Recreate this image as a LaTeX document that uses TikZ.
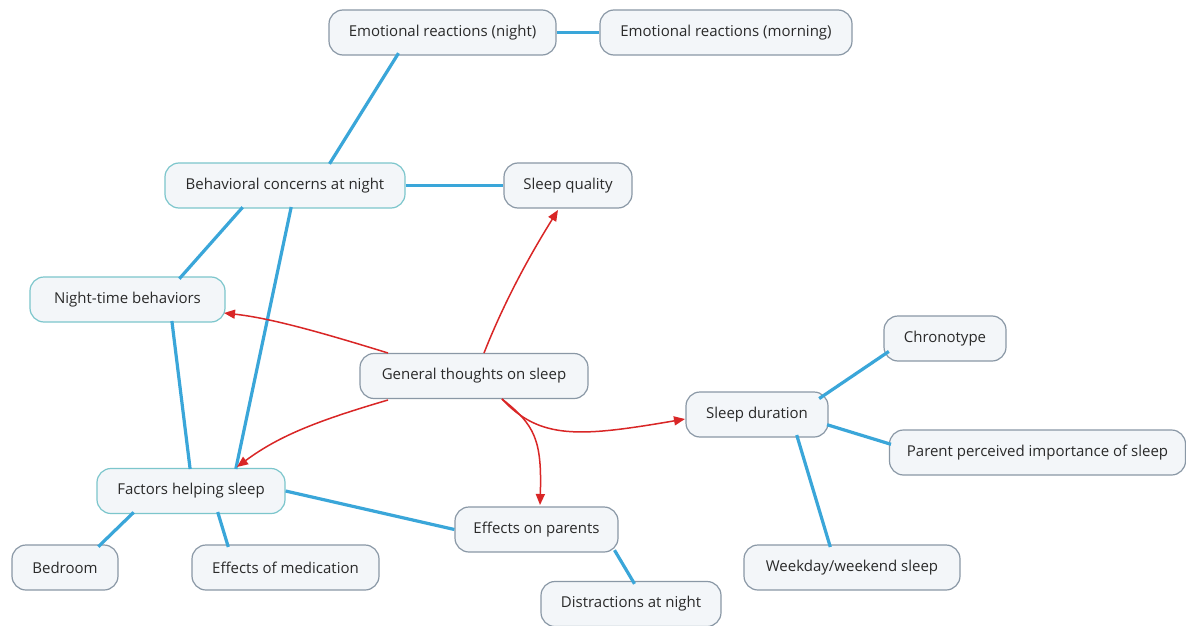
\documentclass[tikz,border=0pt]{standalone}
\usepackage{fontspec}
\setmainfont{Open Sans}
\usetikzlibrary{arrows.meta}
\definecolor{boxfill}{HTML}{F3F6F9}
\definecolor{greyedge}{HTML}{8A98A6}
\definecolor{tealedge}{HTML}{7CC6CC}
\definecolor{linkblue}{HTML}{3AA6D9}
\definecolor{arrowred}{HTML}{D92626}
\definecolor{textgrey}{HTML}{2A2A2A}
\tikzset{
  topic/.style={draw=greyedge, fill=boxfill, rounded corners=14pt, line width=1.2pt,
    minimum height=45pt, inner sep=0pt, text=textgrey,
    font=\fontsize{15}{17}\selectfont},
  tealtopic/.style={topic, draw=tealedge},
  link/.style={draw=linkblue, line width=3.2pt, shorten <=-1pt, shorten >=-1pt},
  pointer/.style={draw=arrowred, line width=1.5pt, -{Triangle[length=11pt,width=9pt]}},
}
\begin{document}
\begin{tikzpicture}[x=1pt,y=-1pt]
\useasboundingbox (0,0) rectangle (1186,626);
\fill[white] (0,0) rectangle (1186,626);

% end points of the slanted links on the box borders
\coordinate (enB) at (398,54);
\coordinate (bcT) at (330,163);
\coordinate (bcB1) at (242,208);
\coordinate (ntT) at (180,278);
\coordinate (bcB2) at (291,208);
\coordinate (fhT2) at (236,468);
\coordinate (ntB) at (172,322);
\coordinate (fhT1) at (190,468);
\coordinate (fhB1) at (133,513);
\coordinate (bdT) at (99,546);
\coordinate (fhB2) at (218,513);
\coordinate (emT) at (228,546);
\coordinate (epB) at (615,551);
\coordinate (dnT) at (634,583);
\coordinate (sdR1) at (820,398);
\coordinate (chL) at (888,352);
\coordinate (sdR2) at (828,425);
\coordinate (ppL) at (890,444);
\coordinate (sdB) at (797,436);
\coordinate (wwT) at (830,546);

% topics
\node[topic, minimum width=227pt] (emn) at (442.5,32.5) {Emotional reactions (night)};
\node[topic, minimum width=252pt] (emm) at (726,32.5) {Emotional reactions (morning)};
\node[tealtopic, minimum width=240pt] (bcn) at (285,185.5) {Behavioral concerns at night};
\node[topic, minimum width=128pt] (sq) at (568,185.5) {Sleep quality};
\node[tealtopic, minimum width=195pt] (ntb) at (127.5,299.5) {Night-time behaviors};
\node[topic, minimum width=228pt] (gts) at (474,376) {General thoughts on sleep};
\node[topic, minimum width=122pt] (chr) at (945,338.5) {Chronotype};
\node[topic, minimum width=142pt] (sdu) at (757,414.5) {Sleep duration};
\node[topic, minimum width=296pt] (ppi) at (1037.5,452.5) {Parent perceived importance of sleep};
\node[tealtopic, minimum width=188pt] (fhs) at (191,491) {Factors helping sleep};
\node[topic, minimum width=163pt] (eop) at (536.5,529.5) {Effects on parents};
\node[topic, minimum width=106pt] (bed) at (65,567.5) {Bedroom};
\node[topic, minimum width=187pt] (eom) at (285.5,567.5) {Effects of medication};
\node[topic, minimum width=216pt] (wws) at (852,567.5) {Weekday/weekend sleep};
\node[topic, minimum width=180pt] (dan) at (631,604) {Distractions at night};

% blue links between topics
\draw[link, shorten <=0pt, shorten >=0pt] (emn.east) -- (emm.west);
\draw[link, shorten <=0pt, shorten >=0pt] (bcn.east) -- (sq.west);
\draw[link, shorten <=0pt, shorten >=0pt] (fhs.east) -- (eop.west);
\draw[link] (enB) -- (bcT);
\draw[link] (bcB1) -- (ntT);
\draw[link] (bcB2) -- (fhT2);
\draw[link] (ntB) -- (fhT1);
\draw[link] (fhB1) -- (bdT);
\draw[link] (fhB2) -- (emT);
\draw[link] (epB) -- (dnT);
\draw[link] (sdR1) -- (chL);
\draw[link] (sdR2) -- (ppL);
\draw[link] (sdB) -- (wwT);

% red arrows from the central topic
\coordinate (gA) at (484,353);
\coordinate (gB) at (388,353);
\coordinate (gC) at (388,400);
\coordinate (gD) at (502,399);
\draw[pointer] (gA) .. controls (505,300) and (530,255) .. (558,210);
\draw[pointer] (gB) .. controls (320,332) and (270,318) .. (224,313);
\draw[pointer] (gC) .. controls (320,420) and (280,435) .. (237,467);
\draw[pointer] (gD) .. controls (540,440) and (580,437) .. (685,419);
\draw[pointer] (gD) .. controls (535,425) and (542,440) .. (540,505);
\end{tikzpicture}
\end{document}
